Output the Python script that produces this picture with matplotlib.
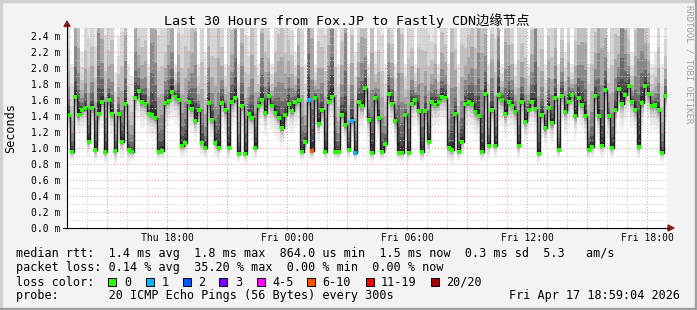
import numpy as np
import matplotlib
matplotlib.use("Agg")
import matplotlib.pyplot as plt
import matplotlib.dates as mdates
from matplotlib.lines import Line2D
from matplotlib.patches import Rectangle, Polygon
from matplotlib.ticker import FuncFormatter, MultipleLocator
from datetime import datetime, timedelta

# ------------------------------------------------------------
# data (10 min steps, values in ms)
# ------------------------------------------------------------
START = datetime(2026, 4, 16, 12, 59, 4)
END = datetime(2026, 4, 17, 18, 59, 4)
STEP_MIN = 10

median_ms = [
    1.41, 0.95, 1.64, 1.41, 1.47, 1.50, 1.08, 1.50, 0.97, 1.43, 1.58, 0.95, 1.60, 1.43, 0.96,
    1.42, 1.08, 1.55, 0.97, 0.95, 1.63, 1.71, 1.57, 1.55, 1.43, 1.41, 1.38, 0.95, 0.96, 1.56,
    1.59, 1.70, 1.64, 1.60, 1.02, 1.06, 1.57, 1.49, 1.34, 1.47, 1.06, 1.00, 1.56, 1.35, 1.06,
    1.00, 1.56, 1.47, 1.00, 1.57, 1.62, 0.93, 1.52, 0.93, 1.42, 1.38, 1.00, 1.52, 1.60, 1.44,
    1.65, 1.53, 1.44, 1.38, 1.25, 1.41, 1.55, 1.46, 1.57, 1.60, 0.95, 1.07, 1.60, 0.96, 1.63,
    1.30, 1.47, 0.95, 1.58, 1.64, 0.95, 0.95, 1.41, 1.29, 0.98, 1.34, 0.94, 1.57, 1.52, 1.75,
    1.35, 0.94, 1.62, 1.38, 0.95, 1.05, 1.67, 1.55, 1.34, 0.94, 0.94, 1.41, 0.94, 1.55, 1.60,
    1.46, 0.95, 1.46, 1.07, 1.57, 1.54, 1.57, 1.64, 1.63, 1.00, 0.97, 1.42, 0.95, 1.07, 1.55,
    1.57, 1.55, 1.45, 1.40, 0.95, 1.68, 1.03, 1.47, 1.03, 1.66, 1.60, 1.42, 1.58, 1.53, 1.45,
    1.02, 1.58, 1.32, 1.47, 1.57, 1.49, 0.93, 1.41, 1.25, 1.50, 1.31, 1.63, 0.98, 1.65, 1.45,
    1.58, 1.66, 1.40, 1.63, 1.54, 1.40, 0.98, 1.01, 1.65, 1.40, 1.03, 1.72, 1.40, 1.00, 1.47,
    1.74, 1.55, 1.66, 1.78, 1.57, 1.47, 1.01, 1.56, 1.78, 1.67, 1.53, 1.54, 1.47, 0.94, 1.65,
]

# slowest ping per step (smoke top, often off the chart)
max_ms = [
    3.0, 2.05, 4.5, 3.8, 2.2, 2.9, 2.8, 3.0, 2.7, 6.0, 3.8, 2.9, 2.8, 3.2, 1.95,
    2.4, 2.9, 4.0, 2.05, 1.9, 4.2, 3.0, 2.9, 3.1, 2.05, 5.5, 4.5, 2.9, 3.0, 2.8,
    3.6, 4.0, 2.05, 3.2, 2.9, 3.4, 2.8, 3.5, 4.5, 2.05, 3.0, 2.2, 3.6, 2.9, 3.1,
    4.2, 2.9, 2.05, 3.0, 3.3, 5.5, 2.05, 3.8, 2.9, 2.4, 3.6, 3.0, 2.05, 4.0, 2.9,
    3.0, 2.05, 2.9, 3.4, 3.8, 2.9, 3.1, 2.8, 2.2, 3.6, 3.0, 2.05, 6.0, 5.0, 2.05,
    3.3, 3.0, 2.9, 3.6, 5.5, 3.0, 2.05, 3.2, 6.5, 2.05, 3.4, 2.2, 3.0, 4.0, 3.5,
    2.05, 4.5, 2.2, 3.0, 2.9, 2.05, 3.5, 3.0, 2.05, 5.5, 3.8, 2.05, 3.2, 2.9, 2.05,
    3.0, 3.4, 2.9, 2.9, 2.6, 3.0, 2.05, 3.2, 2.9, 2.05, 4.5, 3.0, 2.05, 3.4, 2.9,
    3.2, 3.6, 3.0, 5.0, 4.5, 3.8, 2.05, 3.3, 2.8, 5.0, 2.05, 4.0, 3.6, 3.0, 2.05,
    3.1, 3.0, 2.9, 2.05, 3.3, 6.0, 3.0, 3.0, 2.05, 3.2, 2.9, 3.4, 2.05, 3.0, 2.2,
    3.0, 2.05, 3.2, 3.5, 3.8, 4.0, 2.05, 3.0, 3.2, 5.0, 4.5, 3.6, 2.2, 3.0, 3.3,
    3.0, 6.0, 4.0, 2.9, 2.2, 3.4, 6.0, 4.5, 3.3, 2.9, 2.05, 2.2, 3.0, 2.05, 2.6,
]

# fastest ping per step (smoke bottom)
min_ms = [
    1.10, 0.84, 1.30, 1.15, 1.20, 1.25, 0.90, 1.22, 0.82, 1.05, 1.25, 0.80, 1.28, 1.12, 0.78,
    1.10, 0.88, 1.22, 0.80, 0.84, 1.30, 1.35, 1.25, 1.28, 1.18, 1.12, 1.10, 0.85, 0.86, 1.25,
    1.28, 1.35, 1.30, 1.25, 0.88, 0.90, 1.25, 1.20, 1.08, 1.18, 0.90, 0.86, 1.22, 1.10, 0.90,
    0.85, 1.25, 1.15, 0.86, 1.22, 1.30, 0.82, 1.20, 0.80, 1.15, 1.10, 0.86, 1.22, 1.28, 1.15,
    1.30, 1.22, 1.15, 1.10, 1.00, 1.12, 1.25, 1.18, 1.25, 1.28, 0.84, 0.92, 1.25, 0.84, 1.30,
    1.05, 1.18, 0.84, 1.25, 1.30, 0.85, 0.84, 1.12, 1.02, 0.86, 1.08, 0.82, 1.25, 1.22, 1.38,
    1.08, 0.82, 1.30, 1.10, 0.84, 0.88, 1.32, 1.22, 1.05, 0.83, 0.82, 1.12, 0.83, 1.22, 1.28,
    1.15, 0.82, 1.15, 0.90, 1.25, 1.22, 1.25, 1.30, 1.30, 0.84, 0.80, 1.12, 0.84, 0.90, 1.22,
    1.25, 1.22, 1.15, 1.10, 0.84, 1.32, 0.88, 1.18, 0.88, 1.32, 1.28, 1.12, 1.25, 1.22, 1.15,
    0.86, 1.25, 1.05, 1.18, 1.25, 1.18, 0.80, 1.12, 1.00, 1.20, 1.05, 1.30, 0.86, 1.32, 1.15,
    1.25, 1.32, 1.10, 1.30, 1.22, 1.10, 0.86, 0.88, 1.32, 1.10, 0.88, 1.38, 1.10, 0.86, 1.18,
    1.40, 1.22, 1.32, 1.42, 1.25, 1.18, 0.86, 1.22, 1.42, 1.35, 1.22, 1.22, 1.18, 0.82, 1.32,
]

# steps that lost packets -> index into loss colours
loss_steps = [72, 73, 85, 86]
loss_class = [1, 5, 1, 1]

loss_labels = ["0", "1", "2", "3", "4-5", "6-10", "11-19", "20/20"]
loss_colors = ["#26ff00", "#00b8ff", "#0059ff", "#7e00ff",
               "#ff00ff", "#ff5500", "#ff0000", "#a10000"]

TITLE = "Last 30 Hours from Fox.JP to Fastly CDN边缘节点"
STAT_RTT = "median rtt:  1.4 ms avg  1.8 ms max  864.0 us min  1.5 ms now  0.3 ms sd  5.3   am/s"
STAT_LOSS = "packet loss: 0.14 % avg  35.20 % max  0.00 % min  0.00 % now"
PROBE = "probe:       20 ICMP Echo Pings (56 Bytes) every 300s"
STAMP = "Fri Apr 17 18:59:04 2026"

# smoke shading: fraction of the way from median to extreme, dark -> light
SMOKE_FRAC = [0.03, 0.07, 0.13, 0.22, 0.35, 0.52, 0.75, 1.0]
UP_GRAY = ["#303030", "#4c4c4c", "#6a6a6a", "#888888",
           "#a6a6a6", "#c0c0c0", "#d6d6d6", "#e6e6e6"]
LOW_GRAY = ["#404040", "#6a6a6a", "#909090", "#b0b0b0",
            "#c8c8c8", "#dadada", "#e8e8e8", "#f2f2f2"]

W, H = 697, 310
BG = "#f3f3f3"
MGRID = "#f09090"
GRID = "#c8c8c8"
ARROW = "#902020"

plt.rcParams["font.family"] = ["DejaVu Sans Mono", "Noto Sans CJK SC"]


def fx(px):
    return px / W


def fy(py):
    return 1 - py / H


fig = plt.figure(figsize=(W / 100, H / 100), dpi=100, facecolor=BG)
ax = fig.add_axes([fx(67), fy(228), 600 / W, 200 / H])
ax.set_facecolor("white")

n = len(median_ms)
edges = mdates.date2num([START + timedelta(minutes=STEP_MIN * i) for i in range(n + 1)])
med = np.append(median_ms, median_ms[-1])
hi = np.append(max_ms, max_ms[-1])
lo = np.append(min_ms, min_ms[-1])

prev_up, prev_dn = med, med
for frac, g_up, g_low in zip(SMOKE_FRAC, UP_GRAY, LOW_GRAY):
    up = med + (hi - med) * frac
    dn = med - (med - lo) * frac
    ax.fill_between(edges, prev_up, up, step="post", color=g_up, lw=0,
                    antialiased=False, zorder=1)
    ax.fill_between(edges, dn, prev_dn, step="post", color=g_low, lw=0,
                    antialiased=False, zorder=1)
    prev_up, prev_dn = up, dn

ax.step(edges, med, where="post", color="#1a1a1a", lw=1.0, zorder=3)

step_cls = [0] * n
for i, c in zip(loss_steps, loss_class):
    step_cls[i] = c
mids = (edges[:-1] + edges[1:]) / 2
for c in sorted(set(step_cls)):
    idx = [i for i in range(n) if step_cls[i] == c]
    ax.plot(mids[idx], np.array(median_ms)[idx], "s", ms=2.2, mew=0,
            color=loss_colors[c], zorder=4)

ax.set_xlim(mdates.date2num(START), mdates.date2num(END))
ax.set_ylim(0, 2.5)

ax.xaxis.set_major_locator(mdates.HourLocator(byhour=range(0, 24, 3)))
ax.xaxis.set_minor_locator(mdates.HourLocator())


def fmt_time(v, pos):
    d = mdates.num2date(v)
    return d.strftime("%a %H:%M") if d.hour % 6 == 0 else ""


ax.xaxis.set_major_formatter(FuncFormatter(fmt_time))
ax.yaxis.set_major_locator(MultipleLocator(0.2))
ax.yaxis.set_minor_locator(MultipleLocator(0.1))
ax.yaxis.set_major_formatter(FuncFormatter(lambda v, p: f"{v:.1f} m"))

ax.set_axisbelow(False)
ax.grid(which="minor", color=GRID, ls=(0, (1, 2)), lw=0.7)
ax.grid(which="major", color=MGRID, ls=(0, (1, 2)), lw=0.7)
for s in ax.spines.values():
    s.set_visible(False)
ax.tick_params(axis="x", which="major", length=3, direction="inout", width=0.7,
               color=MGRID, labelsize=7, pad=2)
ax.tick_params(axis="x", which="minor", length=3, direction="inout", width=0.7, color=GRID)
ax.tick_params(axis="y", which="both", length=0, labelsize=7, pad=5)

# axes lines and arrows
fig.add_artist(Line2D([fx(67), fx(67)], [fy(228), fy(24)], color="black", lw=0.8))
fig.add_artist(Line2D([fx(63), fx(669)], [fy(228), fy(228)], color="black", lw=0.8))
fig.add_artist(Polygon([[fx(64), fy(26.5)], [fx(70), fy(26.5)], [fx(67), fy(21)]],
                       closed=True, color=ARROW, transform=fig.transFigure))
fig.add_artist(Polygon([[fx(668), fy(225)], [fx(668), fy(231)], [fx(674), fy(228)]],
                       closed=True, color=ARROW, transform=fig.transFigure))

# frame
fig.add_artist(Rectangle((0, 0), fx(2), 1, color="#d0d0d0", transform=fig.transFigure))
fig.add_artist(Rectangle((0, fy(2)), 1, 2 / H, color="#d0d0d0", transform=fig.transFigure))
fig.add_artist(Rectangle((fx(695), 0), fx(2), 1, color="#a0a0a0", transform=fig.transFigure))
fig.add_artist(Rectangle((0, 0), 1, 2 / H, color="#a0a0a0", transform=fig.transFigure))

fig.text(fx(347), fy(21), TITLE, ha="center", va="center", fontsize=9.6, color="black")
fig.text(fx(11), fy(128), "Seconds", rotation=90, ha="center", va="center", fontsize=8.5)
fig.text(fx(689), fy(5), "RRDTOOL / TOBI OETIKER", rotation=270, ha="center", va="top",
         fontsize=6.5, color="#a0a0a0")

LEG_FS = 8.5
fig.text(fx(16), fy(254), STAT_RTT, ha="left", va="center", fontsize=LEG_FS)
fig.text(fx(16), fy(268), STAT_LOSS, ha="left", va="center", fontsize=LEG_FS)
fig.text(fx(16), fy(282), "loss color:", ha="left", va="center", fontsize=LEG_FS)
box_x = [108, 146, 183, 219, 257, 307, 366, 431]
lab_x = [124, 162, 198, 235, 272, 322, 381, 446]
for bx, lx, lab, col in zip(box_x, lab_x, loss_labels, loss_colors):
    fig.add_artist(Rectangle((fx(bx), fy(286)), fx(8), 8 / H, facecolor=col,
                             edgecolor="black", lw=0.7, transform=fig.transFigure))
    fig.text(fx(lx), fy(282), lab, ha="left", va="center", fontsize=LEG_FS)
fig.text(fx(16), fy(296), PROBE, ha="left", va="center", fontsize=LEG_FS)
fig.text(fx(680), fy(296), STAMP, ha="right", va="center", fontsize=LEG_FS)

fig.savefig("out.png", dpi=100, facecolor=BG)
